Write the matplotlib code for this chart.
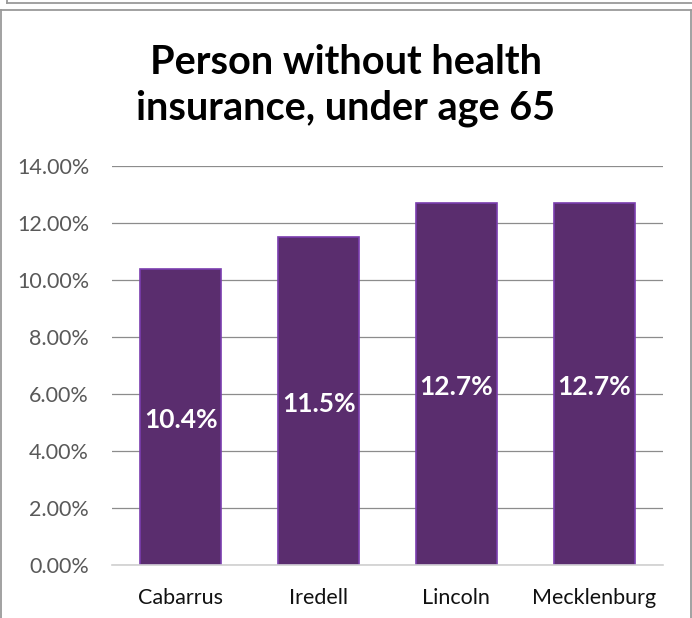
import matplotlib.pyplot as plt
from matplotlib.lines import Line2D

counties = ["Cabarrus", "Iredell", "Lincoln", "Mecklenburg"]
uninsured = [10.4, 11.5, 12.7, 12.7]   # percent, under age 65
y_ticks = [0, 2, 4, 6, 8, 10, 12, 14]

plt.rcParams['font.family'] = ['Lato', 'DejaVu Sans']

W, H = 692, 618
fig = plt.figure(figsize=(W / 100, H / 100), dpi=100)

# plot area in pixel terms
left, right, top, bottom = 112, 663, 166, 565.3
ax = fig.add_axes([left / W, 1 - bottom / H, (right - left) / W, (bottom - top) / H])

x = range(len(counties))
bars = ax.bar(x, uninsured, width=1 / 1.7, color="#5A2D6E", edgecolor="#7A3DAE",
              linewidth=1.2, zorder=3)

for b, v in zip(bars, uninsured):
    ax.text(b.get_x() + b.get_width() / 2, v / 2 - 0.1, f"{v:.1f}%", ha="center", va="center",
            color="white", fontsize=19, fontweight="bold", zorder=4)

ax.set_xlim(-0.5, len(counties) - 0.5)
ax.set_ylim(0, 14)
ax.set_yticks(y_ticks)
ax.set_yticklabels([f"{t:.2f}%" for t in y_ticks])
ax.set_xticks(list(x))
ax.set_xticklabels(counties)
ax.tick_params(axis="y", length=0, pad=16.5, labelsize=15.5, labelcolor="#595959")
ax.tick_params(axis="x", length=0, pad=16, labelsize=15.5, labelcolor="#111111")

ax.yaxis.grid(True, color="#8C8C8C", linewidth=0.9)
ax.set_axisbelow(True)
for s in ["top", "right", "left"]:
    ax.spines[s].set_visible(False)
ax.spines["bottom"].set_color("#D0D0D0")
ax.spines["bottom"].set_linewidth(1.2)
ax.spines["bottom"].set_zorder(5)

fig.text(0.5, 1 - 62 / H, "Person without health", ha="center", va="center",
         fontsize=28.5, fontweight="bold", color="black")
fig.text(0.5, 1 - 108 / H, "insurance, under age 65", ha="center", va="center",
         fontsize=28.5, fontweight="bold", color="black")

# chart frame and the edge of the box above it
frame = "#9A9A9A"
def px_line(xs, ys):
    fig.add_artist(Line2D([v / W for v in xs], [1 - v / H for v in ys],
                          color=frame, linewidth=1.3))

px_line([1.5, 1.5], [9.5, H])
px_line([1.5, 690.5], [9.5, 9.5])
px_line([690.5, 690.5], [9.5, H])
px_line([7, W], [3, 3])
px_line([7, 7], [0, 3])

fig.savefig("out.png", dpi=100)
